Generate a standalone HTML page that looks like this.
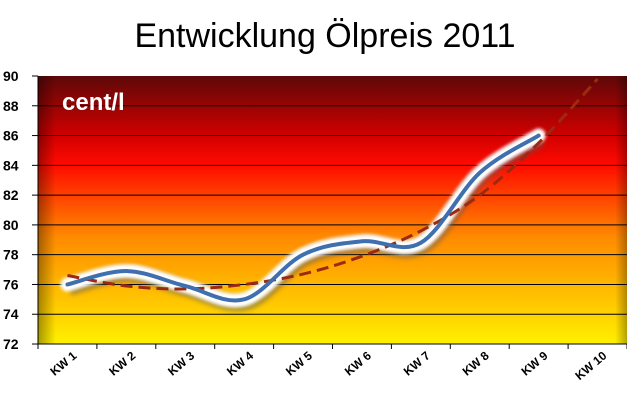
<!DOCTYPE html>
<html><head><meta charset="utf-8"><style>
body{margin:0;background:#fff;width:627px;height:401px;overflow:hidden;font-family:"Liberation Sans",sans-serif}
</style></head><body>
<svg id="s" width="627" height="401" xmlns="http://www.w3.org/2000/svg">
<defs>
<linearGradient id="g" x1="0" y1="0" x2="0" y2="1">
<stop offset="0" stop-color="#5e0808"/>
<stop offset="0.22" stop-color="#d00000"/>
<stop offset="0.33" stop-color="#ff0a00"/>
<stop offset="0.6" stop-color="#ff8a00"/>
<stop offset="0.85" stop-color="#ffc800"/>
<stop offset="1" stop-color="#fff000"/>
</linearGradient>
<linearGradient id="sh" x1="0" y1="0" x2="1" y2="0">
<stop offset="0" stop-color="#000" stop-opacity="0.35"/>
<stop offset="0.03" stop-color="#000" stop-opacity="0"/>
<stop offset="0.98" stop-color="#000" stop-opacity="0"/>
<stop offset="1" stop-color="#000" stop-opacity="0.3"/>
</linearGradient>
<filter id="b"><feGaussianBlur stdDeviation="2.5"/></filter>
<filter id="w"><feGaussianBlur stdDeviation="1.5"/></filter>
</defs>
<text x="325" y="47" font-size="34" text-anchor="middle" fill="#000">Entwicklung Ölpreis 2011</text>
<rect x="38" y="76" width="589" height="268" fill="url(#g)"/>
<rect x="38" y="76" width="589" height="268" fill="url(#sh)"/>
<g id="grid" stroke="#000" stroke-width="1"></g>
<text x="62" y="110" font-size="24" font-weight="bold" fill="#fff">cent/l</text>
<g id="lines"></g>
<g id="ax" font-size="13" font-weight="bold" fill="#000"></g>
</svg>
<script>
var Y=v=>76+(90-v)*14.89, X=i=>38+58.9*(i+0.5);
var grid=document.getElementById('grid'),ax=document.getElementById('ax'),ns='http://www.w3.org/2000/svg';
function el(t,a,p){var e=document.createElementNS(ns,t);for(var k in a)e.setAttribute(k,a[k]);p.appendChild(e);return e;}
for(var v=72;v<=90;v+=2){var y=Y(v);if(v>72&&v<90)el('line',{x1:38,x2:627,y1:y,y2:y},grid);el('line',{x1:32,x2:38,y1:y,y2:y,stroke:'#000'},ax);var t=el('text',{x:3,y:y+5,'font-size':14},ax);t.textContent=v;}
el('line',{x1:38,x2:38,y1:76,y2:344,stroke:'#000'},ax);el('line',{x1:38,x2:627,y1:344,y2:344,stroke:'#000'},ax);
for(var i=0;i<=10;i++){var x=38+58.9*i;el('line',{x1:x,x2:x,y1:344,y2:349,stroke:'#000'},ax);}
for(var i=0;i<10;i++){var x=X(i)+10,y=357;var t=el('text',{x:x,y:y,'text-anchor':'end',transform:'rotate(-40 '+x+' '+y+')','font-size':12},ax);t.textContent='KW '+(i+1);}
function path(vals){var p=vals.map((v,i)=>[X(i),Y(v)]);var d='M'+p[0];for(var i=0;i<p.length-1;i++){var a=p[i-1]||p[i],b=p[i],c=p[i+1],e=p[i+2]||c;d+=' C'+(b[0]+(c[0]-a[0])/6)+','+(b[1]+(c[1]-a[1])/6)+' '+(c[0]-(e[0]-b[0])/6)+','+(c[1]-(e[1]-b[1])/6)+' '+c;}return d;}
var L=document.getElementById('lines');
var d1=path([76,76.9,75.9,75,78,78.9,78.8,83.5,86]);
el('path',{d:d1,fill:'none',stroke:'#555','stroke-width':16,opacity:0.5,filter:'url(#b)',transform:'translate(2,3)'},L);
el('path',{d:d1,fill:'none',stroke:'#fff','stroke-width':14,'stroke-linecap':'round',filter:'url(#w)'},L);
el('path',{d:path([76.6,75.9,75.7,76,76.7,77.9,79.6,82,85.5,89.8]),fill:'none',stroke:'#9c2a12','stroke-width':3,'stroke-dasharray':'12,6'},L);
el('path',{d:d1,fill:'none',stroke:'#3f6fae','stroke-width':4,'stroke-linecap':'round'},L);
</script>
</body></html>
